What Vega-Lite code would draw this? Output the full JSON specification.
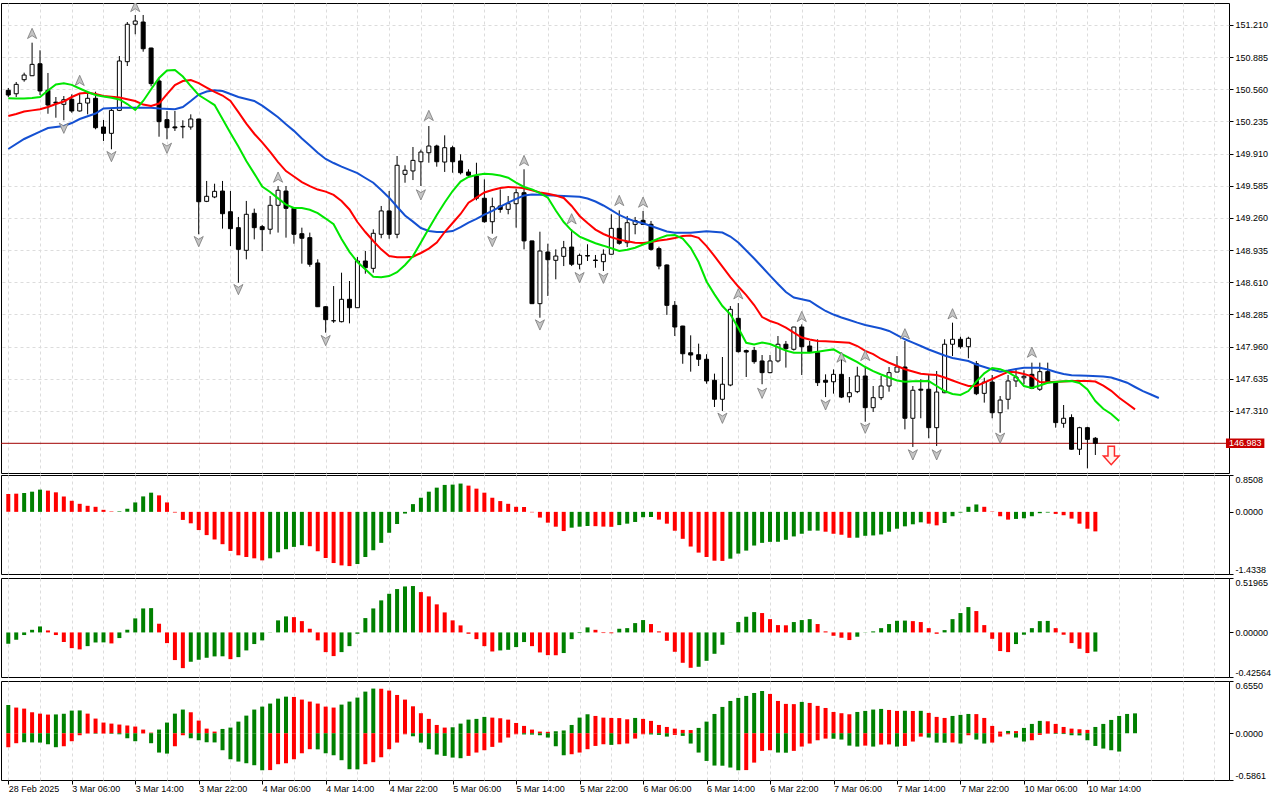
{
  "$schema": "https://vega.github.io/schema/vega-lite/v6.json",
  "background": "white",
  "padding": {"left": 0, "top": 2, "right": 0, "bottom": 0},
  "config": {
    "font": "Liberation Sans",
    "view": {"stroke": "#000000", "strokeWidth": 1},
    "axis": {"labelFont": "Liberation Sans", "labelFontSize": 9, "labelColor": "#000000", "tickColor": "#000000", "gridColor": "#dcdcdc", "gridDash": [3, 3], "domain": false}
  },
  "resolve": {"scale": {"color": "independent"}},
  "datasets": {
    "bars": [
      {"i":0,"o":150.550,"h":150.573,"l":150.482,"c":150.502},
      {"i":1,"o":150.515,"h":150.634,"l":150.482,"c":150.610},
      {"i":2,"o":150.657,"h":150.728,"l":150.637,"c":150.704},
      {"i":3,"o":150.697,"h":151.031,"l":150.694,"c":150.812},
      {"i":4,"o":150.818,"h":150.954,"l":150.502,"c":150.543},
      {"i":5,"o":150.550,"h":150.725,"l":150.313,"c":150.401},
      {"i":6,"o":150.430,"h":150.482,"l":150.273,"c":150.420},
      {"i":7,"o":150.408,"h":150.492,"l":150.247,"c":150.455},
      {"i":8,"o":150.459,"h":150.509,"l":150.323,"c":150.341},
      {"i":9,"o":150.341,"h":150.515,"l":150.335,"c":150.418},
      {"i":10,"o":150.421,"h":150.543,"l":150.307,"c":150.469},
      {"i":11,"o":150.469,"h":150.536,"l":150.156,"c":150.172},
      {"i":12,"o":150.179,"h":150.250,"l":150.038,"c":150.115},
      {"i":13,"o":150.115,"h":150.371,"l":149.954,"c":150.347},
      {"i":14,"o":150.347,"h":150.896,"l":150.340,"c":150.846},
      {"i":15,"o":150.839,"h":151.240,"l":150.795,"c":151.217},
      {"i":16,"o":151.217,"h":151.311,"l":151.116,"c":151.250},
      {"i":17,"o":151.240,"h":151.311,"l":150.940,"c":150.970},
      {"i":18,"o":150.977,"h":150.980,"l":150.590,"c":150.617},
      {"i":19,"o":150.644,"h":150.677,"l":150.081,"c":150.233},
      {"i":20,"o":150.253,"h":150.341,"l":150.055,"c":150.172},
      {"i":21,"o":150.180,"h":150.341,"l":150.139,"c":150.170},
      {"i":22,"o":150.180,"h":150.247,"l":150.065,"c":150.185},
      {"i":23,"o":150.179,"h":150.307,"l":150.152,"c":150.260},
      {"i":24,"o":150.260,"h":150.262,"l":149.095,"c":149.424},
      {"i":25,"o":149.428,"h":149.634,"l":149.420,"c":149.479},
      {"i":26,"o":149.472,"h":149.606,"l":149.460,"c":149.529},
      {"i":27,"o":149.532,"h":149.634,"l":149.152,"c":149.303},
      {"i":28,"o":149.323,"h":149.532,"l":148.976,"c":149.152},
      {"i":29,"o":149.162,"h":149.270,"l":148.606,"c":148.943},
      {"i":30,"o":148.933,"h":149.432,"l":148.842,"c":149.297},
      {"i":31,"o":149.307,"h":149.354,"l":149.044,"c":149.162},
      {"i":32,"o":149.172,"h":149.190,"l":148.926,"c":149.142},
      {"i":33,"o":149.146,"h":149.482,"l":149.095,"c":149.388},
      {"i":34,"o":149.388,"h":149.583,"l":149.112,"c":149.540},
      {"i":35,"o":149.532,"h":149.583,"l":149.061,"c":149.357},
      {"i":36,"o":149.357,"h":149.360,"l":149.000,"c":149.095},
      {"i":37,"o":149.101,"h":149.162,"l":148.798,"c":149.055},
      {"i":38,"o":149.061,"h":149.112,"l":148.767,"c":148.792},
      {"i":39,"o":148.805,"h":148.842,"l":148.360,"c":148.363},
      {"i":40,"o":148.363,"h":148.370,"l":148.101,"c":148.232},
      {"i":41,"o":148.220,"h":148.572,"l":148.200,"c":148.222},
      {"i":42,"o":148.212,"h":148.707,"l":148.205,"c":148.438},
      {"i":43,"o":148.438,"h":148.623,"l":148.195,"c":148.353},
      {"i":44,"o":148.353,"h":148.865,"l":148.350,"c":148.825},
      {"i":45,"o":148.825,"h":148.926,"l":148.697,"c":148.757},
      {"i":46,"o":148.751,"h":149.145,"l":148.707,"c":149.105},
      {"i":47,"o":149.095,"h":149.381,"l":149.055,"c":149.331},
      {"i":48,"o":149.331,"h":149.532,"l":149.050,"c":149.095},
      {"i":49,"o":149.095,"h":149.886,"l":149.055,"c":149.792},
      {"i":50,"o":149.701,"h":149.792,"l":149.616,"c":149.742},
      {"i":51,"o":149.735,"h":149.977,"l":149.643,"c":149.842},
      {"i":52,"o":149.828,"h":149.950,"l":149.583,"c":149.926},
      {"i":53,"o":149.919,"h":150.189,"l":149.818,"c":149.987},
      {"i":54,"o":149.987,"h":150.000,"l":149.778,"c":149.828},
      {"i":55,"o":149.825,"h":150.095,"l":149.725,"c":149.970},
      {"i":56,"o":149.970,"h":149.990,"l":149.717,"c":149.828},
      {"i":57,"o":149.836,"h":149.903,"l":149.700,"c":149.717},
      {"i":58,"o":149.724,"h":149.752,"l":149.674,"c":149.691},
      {"i":59,"o":149.684,"h":149.818,"l":149.438,"c":149.459},
      {"i":60,"o":149.459,"h":149.650,"l":149.212,"c":149.222},
      {"i":61,"o":149.222,"h":149.465,"l":149.101,"c":149.374},
      {"i":62,"o":149.381,"h":149.549,"l":149.313,"c":149.347},
      {"i":63,"o":149.347,"h":149.482,"l":149.297,"c":149.404},
      {"i":64,"o":149.404,"h":149.555,"l":149.162,"c":149.515},
      {"i":65,"o":149.515,"h":149.752,"l":148.943,"c":149.028},
      {"i":66,"o":149.028,"h":149.030,"l":148.390,"c":148.394},
      {"i":67,"o":148.394,"h":149.121,"l":148.252,"c":148.926},
      {"i":68,"o":148.916,"h":149.000,"l":148.472,"c":148.838},
      {"i":69,"o":148.832,"h":148.943,"l":148.640,"c":148.875},
      {"i":70,"o":148.872,"h":149.028,"l":148.774,"c":148.959},
      {"i":71,"o":148.966,"h":149.145,"l":148.774,"c":148.792},
      {"i":72,"o":148.792,"h":148.900,"l":148.741,"c":148.882},
      {"i":73,"o":148.880,"h":148.994,"l":148.825,"c":148.875},
      {"i":74,"o":148.835,"h":148.886,"l":148.757,"c":148.830},
      {"i":75,"o":148.818,"h":148.943,"l":148.724,"c":148.893},
      {"i":76,"o":148.893,"h":149.297,"l":148.890,"c":149.155},
      {"i":77,"o":149.155,"h":149.337,"l":148.990,"c":149.004},
      {"i":78,"o":149.010,"h":149.280,"l":148.966,"c":149.212},
      {"i":79,"o":149.195,"h":149.270,"l":149.095,"c":149.234},
      {"i":80,"o":149.236,"h":149.331,"l":149.190,"c":149.195},
      {"i":81,"o":149.196,"h":149.230,"l":148.930,"c":148.943},
      {"i":82,"o":148.950,"h":148.970,"l":148.741,"c":148.774},
      {"i":83,"o":148.785,"h":148.790,"l":148.280,"c":148.377},
      {"i":84,"o":148.377,"h":148.420,"l":148.067,"c":148.158},
      {"i":85,"o":148.168,"h":148.170,"l":147.787,"c":147.888},
      {"i":86,"o":147.898,"h":148.074,"l":147.707,"c":147.875},
      {"i":87,"o":147.878,"h":147.990,"l":147.764,"c":147.832},
      {"i":88,"o":147.832,"h":147.883,"l":147.585,"c":147.613},
      {"i":89,"o":147.620,"h":147.687,"l":147.350,"c":147.428},
      {"i":90,"o":147.428,"h":147.855,"l":147.310,"c":147.580},
      {"i":91,"o":147.572,"h":148.370,"l":147.560,"c":148.337},
      {"i":92,"o":148.246,"h":148.400,"l":147.900,"c":147.909},
      {"i":93,"o":147.920,"h":147.930,"l":147.653,"c":147.905},
      {"i":94,"o":147.922,"h":147.957,"l":147.787,"c":147.808},
      {"i":95,"o":147.815,"h":147.875,"l":147.580,"c":147.697},
      {"i":96,"o":147.697,"h":147.875,"l":147.690,"c":147.815},
      {"i":97,"o":147.815,"h":148.067,"l":147.800,"c":147.984},
      {"i":98,"o":147.984,"h":148.017,"l":147.748,"c":147.939},
      {"i":99,"o":147.933,"h":148.160,"l":147.920,"c":148.158},
      {"i":100,"o":148.158,"h":148.185,"l":147.673,"c":147.959},
      {"i":101,"o":147.966,"h":148.017,"l":147.900,"c":147.909},
      {"i":102,"o":147.899,"h":148.034,"l":147.562,"c":147.596},
      {"i":103,"o":147.620,"h":147.680,"l":147.450,"c":147.600},
      {"i":104,"o":147.605,"h":147.730,"l":147.485,"c":147.680},
      {"i":105,"o":147.680,"h":147.875,"l":147.440,"c":147.450},
      {"i":106,"o":147.454,"h":147.653,"l":147.394,"c":147.494},
      {"i":107,"o":147.505,"h":147.757,"l":147.490,"c":147.663},
      {"i":108,"o":147.663,"h":147.747,"l":147.201,"c":147.343},
      {"i":109,"o":147.343,"h":147.562,"l":147.300,"c":147.444},
      {"i":110,"o":147.444,"h":147.663,"l":147.420,"c":147.562},
      {"i":111,"o":147.562,"h":147.754,"l":147.505,"c":147.697},
      {"i":112,"o":147.703,"h":147.865,"l":147.700,"c":147.754},
      {"i":113,"o":147.754,"h":148.017,"l":147.124,"c":147.236},
      {"i":114,"o":147.236,"h":147.562,"l":146.946,"c":147.519},
      {"i":115,"o":147.530,"h":147.630,"l":147.236,"c":147.520},
      {"i":116,"o":147.529,"h":147.680,"l":147.034,"c":147.141},
      {"i":117,"o":147.141,"h":147.714,"l":146.956,"c":147.501},
      {"i":118,"o":147.494,"h":148.034,"l":147.490,"c":147.984},
      {"i":119,"o":147.984,"h":148.202,"l":147.865,"c":148.034},
      {"i":120,"o":148.034,"h":148.060,"l":147.940,"c":147.959},
      {"i":121,"o":147.959,"h":148.060,"l":147.842,"c":148.044},
      {"i":122,"o":147.788,"h":147.815,"l":147.470,"c":147.484},
      {"i":123,"o":147.488,"h":147.646,"l":147.394,"c":147.602},
      {"i":124,"o":147.602,"h":147.673,"l":147.236,"c":147.292},
      {"i":125,"o":147.292,"h":147.461,"l":147.090,"c":147.420},
      {"i":126,"o":147.428,"h":147.673,"l":147.326,"c":147.613},
      {"i":127,"o":147.613,"h":147.731,"l":147.552,"c":147.653},
      {"i":128,"o":147.645,"h":147.720,"l":147.580,"c":147.660},
      {"i":129,"o":147.680,"h":147.798,"l":147.530,"c":147.538},
      {"i":130,"o":147.529,"h":147.798,"l":147.512,"c":147.707},
      {"i":131,"o":147.707,"h":147.798,"l":147.590,"c":147.596},
      {"i":132,"o":147.596,"h":147.600,"l":147.141,"c":147.192},
      {"i":133,"o":147.185,"h":147.370,"l":147.140,"c":147.236},
      {"i":134,"o":147.243,"h":147.276,"l":146.920,"c":146.923},
      {"i":135,"o":146.923,"h":147.150,"l":146.865,"c":147.141},
      {"i":136,"o":147.141,"h":147.150,"l":146.730,"c":147.023},
      {"i":137,"o":147.034,"h":147.046,"l":146.865,"c":146.983}
    ],
    "ma": [
      {"s":"jaw","i":0,"v":149.957},{"s":"jaw","i":2,"v":150.058},{"s":"jaw","i":4,"v":150.133},{"s":"jaw","i":5,"v":150.169},{"s":"jaw","i":7,"v":150.189},{"s":"jaw","i":8,"v":150.219},{"s":"jaw","i":9,"v":150.260},{"s":"jaw","i":11,"v":150.315},{"s":"jaw","i":12,"v":150.366},{"s":"jaw","i":14,"v":150.374},{"s":"jaw","i":16,"v":150.374},{"s":"jaw","i":18,"v":150.374},{"s":"jaw","i":19,"v":150.366},{"s":"jaw","i":21,"v":150.358},{"s":"jaw","i":22,"v":150.381},{"s":"jaw","i":23,"v":150.442},{"s":"jaw","i":24,"v":150.507},{"s":"jaw","i":25,"v":150.538},{"s":"jaw","i":26,"v":150.550},{"s":"jaw","i":27,"v":150.543},{"s":"jaw","i":28,"v":150.512},{"s":"jaw","i":29,"v":150.482},{"s":"jaw","i":30,"v":150.462},{"s":"jaw","i":31,"v":150.442},{"s":"jaw","i":32,"v":150.395},{"s":"jaw","i":33,"v":150.337},{"s":"jaw","i":34,"v":150.278},{"s":"jaw","i":35,"v":150.206},{"s":"jaw","i":36,"v":150.140},{"s":"jaw","i":37,"v":150.063},{"s":"jaw","i":38,"v":149.992},{"s":"jaw","i":39,"v":149.919},{"s":"jaw","i":40,"v":149.856},{"s":"jaw","i":41,"v":149.815},{"s":"jaw","i":42,"v":149.779},{"s":"jaw","i":43,"v":149.746},{"s":"jaw","i":44,"v":149.714},{"s":"jaw","i":45,"v":149.664},{"s":"jaw","i":46,"v":149.616},{"s":"jaw","i":47,"v":149.542},{"s":"jaw","i":48,"v":149.465},{"s":"jaw","i":49,"v":149.373},{"s":"jaw","i":50,"v":149.285},{"s":"jaw","i":51,"v":149.223},{"s":"jaw","i":52,"v":149.158},{"s":"jaw","i":53,"v":149.128},{"s":"jaw","i":54,"v":149.118},{"s":"jaw","i":55,"v":149.118},{"s":"jaw","i":56,"v":149.128},{"s":"jaw","i":57,"v":149.168},{"s":"jaw","i":58,"v":149.212},{"s":"jaw","i":59,"v":149.251},{"s":"jaw","i":60,"v":149.293},{"s":"jaw","i":61,"v":149.332},{"s":"jaw","i":62,"v":149.375},{"s":"jaw","i":63,"v":149.414},{"s":"jaw","i":64,"v":149.453},{"s":"jaw","i":65,"v":149.487},{"s":"jaw","i":66,"v":149.497},{"s":"jaw","i":67,"v":149.495},{"s":"jaw","i":68,"v":149.489},{"s":"jaw","i":70,"v":149.482},{"s":"jaw","i":72,"v":149.474},{"s":"jaw","i":73,"v":149.456},{"s":"jaw","i":74,"v":149.426},{"s":"jaw","i":75,"v":149.386},{"s":"jaw","i":76,"v":149.340},{"s":"jaw","i":77,"v":149.290},{"s":"jaw","i":78,"v":149.254},{"s":"jaw","i":79,"v":149.226},{"s":"jaw","i":80,"v":149.206},{"s":"jaw","i":81,"v":149.179},{"s":"jaw","i":82,"v":149.151},{"s":"jaw","i":83,"v":149.123},{"s":"jaw","i":84,"v":149.111},{"s":"jaw","i":86,"v":149.111},{"s":"jaw","i":88,"v":149.125},{"s":"jaw","i":90,"v":149.112},{"s":"jaw","i":91,"v":149.072},{"s":"jaw","i":92,"v":149.012},{"s":"jaw","i":93,"v":148.931},{"s":"jaw","i":94,"v":148.850},{"s":"jaw","i":95,"v":148.764},{"s":"jaw","i":96,"v":148.678},{"s":"jaw","i":97,"v":148.593},{"s":"jaw","i":98,"v":148.512},{"s":"jaw","i":99,"v":148.456},{"s":"jaw","i":100,"v":148.438},{"s":"jaw","i":101,"v":148.421},{"s":"jaw","i":102,"v":148.370},{"s":"jaw","i":103,"v":148.320},{"s":"jaw","i":104,"v":148.284},{"s":"jaw","i":105,"v":148.254},{"s":"jaw","i":106,"v":148.229},{"s":"jaw","i":107,"v":148.202},{"s":"jaw","i":108,"v":148.178},{"s":"jaw","i":109,"v":148.161},{"s":"jaw","i":110,"v":148.143},{"s":"jaw","i":111,"v":148.118},{"s":"jaw","i":112,"v":148.077},{"s":"jaw","i":113,"v":148.034},{"s":"jaw","i":114,"v":148.001},{"s":"jaw","i":115,"v":147.966},{"s":"jaw","i":116,"v":147.931},{"s":"jaw","i":117,"v":147.900},{"s":"jaw","i":118,"v":147.870},{"s":"jaw","i":119,"v":147.845},{"s":"jaw","i":120,"v":147.830},{"s":"jaw","i":121,"v":147.815},{"s":"jaw","i":122,"v":147.779},{"s":"jaw","i":123,"v":147.754},{"s":"jaw","i":124,"v":147.729},{"s":"jaw","i":125,"v":147.706},{"s":"jaw","i":126,"v":147.719},{"s":"jaw","i":127,"v":147.734},{"s":"jaw","i":128,"v":147.747},{"s":"jaw","i":130,"v":147.747},{"s":"jaw","i":131,"v":147.729},{"s":"jaw","i":132,"v":147.703},{"s":"jaw","i":133,"v":147.683},{"s":"jaw","i":134,"v":147.670},{"s":"jaw","i":136,"v":147.666},{"s":"jaw","i":138,"v":147.658},{"s":"jaw","i":139,"v":147.648},{"s":"jaw","i":140,"v":147.623},{"s":"jaw","i":141,"v":147.595},{"s":"jaw","i":142,"v":147.552},{"s":"jaw","i":143,"v":147.511},{"s":"jaw","i":144,"v":147.476},{"s":"jaw","i":145,"v":147.441},
      {"s":"teeth","i":0,"v":150.290},{"s":"teeth","i":1,"v":150.310},{"s":"teeth","i":2,"v":150.335},{"s":"teeth","i":3,"v":150.347},{"s":"teeth","i":4,"v":150.358},{"s":"teeth","i":5,"v":150.381},{"s":"teeth","i":6,"v":150.411},{"s":"teeth","i":7,"v":150.437},{"s":"teeth","i":8,"v":150.482},{"s":"teeth","i":9,"v":150.517},{"s":"teeth","i":10,"v":150.524},{"s":"teeth","i":11,"v":150.512},{"s":"teeth","i":12,"v":150.492},{"s":"teeth","i":13,"v":150.485},{"s":"teeth","i":14,"v":150.477},{"s":"teeth","i":15,"v":150.459},{"s":"teeth","i":16,"v":150.442},{"s":"teeth","i":17,"v":150.406},{"s":"teeth","i":18,"v":150.391},{"s":"teeth","i":19,"v":150.416},{"s":"teeth","i":20,"v":150.512},{"s":"teeth","i":21,"v":150.603},{"s":"teeth","i":22,"v":150.644},{"s":"teeth","i":23,"v":150.654},{"s":"teeth","i":24,"v":150.623},{"s":"teeth","i":25,"v":150.578},{"s":"teeth","i":26,"v":150.533},{"s":"teeth","i":27,"v":150.497},{"s":"teeth","i":28,"v":150.442},{"s":"teeth","i":29,"v":150.330},{"s":"teeth","i":30,"v":150.213},{"s":"teeth","i":31,"v":150.111},{"s":"teeth","i":32,"v":150.023},{"s":"teeth","i":33,"v":149.928},{"s":"teeth","i":34,"v":149.825},{"s":"teeth","i":35,"v":149.734},{"s":"teeth","i":36,"v":149.679},{"s":"teeth","i":37,"v":149.623},{"s":"teeth","i":38,"v":149.581},{"s":"teeth","i":39,"v":149.547},{"s":"teeth","i":40,"v":149.526},{"s":"teeth","i":41,"v":149.493},{"s":"teeth","i":42,"v":149.431},{"s":"teeth","i":43,"v":149.346},{"s":"teeth","i":44,"v":149.219},{"s":"teeth","i":45,"v":149.118},{"s":"teeth","i":46,"v":149.027},{"s":"teeth","i":47,"v":148.943},{"s":"teeth","i":48,"v":148.875},{"s":"teeth","i":49,"v":148.864},{"s":"teeth","i":50,"v":148.862},{"s":"teeth","i":51,"v":148.868},{"s":"teeth","i":52,"v":148.906},{"s":"teeth","i":53,"v":148.950},{"s":"teeth","i":54,"v":149.012},{"s":"teeth","i":55,"v":149.118},{"s":"teeth","i":56,"v":149.209},{"s":"teeth","i":57,"v":149.300},{"s":"teeth","i":58,"v":149.414},{"s":"teeth","i":59,"v":149.465},{"s":"teeth","i":60,"v":149.517},{"s":"teeth","i":61,"v":149.542},{"s":"teeth","i":62,"v":149.563},{"s":"teeth","i":63,"v":149.573},{"s":"teeth","i":64,"v":149.569},{"s":"teeth","i":65,"v":149.560},{"s":"teeth","i":66,"v":149.540},{"s":"teeth","i":67,"v":149.517},{"s":"teeth","i":68,"v":149.505},{"s":"teeth","i":69,"v":149.487},{"s":"teeth","i":70,"v":149.462},{"s":"teeth","i":71,"v":149.381},{"s":"teeth","i":72,"v":149.280},{"s":"teeth","i":73,"v":149.209},{"s":"teeth","i":74,"v":149.142},{"s":"teeth","i":75,"v":149.098},{"s":"teeth","i":76,"v":149.065},{"s":"teeth","i":77,"v":149.041},{"s":"teeth","i":78,"v":149.024},{"s":"teeth","i":79,"v":149.010},{"s":"teeth","i":80,"v":149.007},{"s":"teeth","i":81,"v":149.017},{"s":"teeth","i":82,"v":149.032},{"s":"teeth","i":83,"v":149.042},{"s":"teeth","i":84,"v":149.057},{"s":"teeth","i":85,"v":149.078},{"s":"teeth","i":86,"v":149.083},{"s":"teeth","i":87,"v":149.059},{"s":"teeth","i":88,"v":148.976},{"s":"teeth","i":89,"v":148.875},{"s":"teeth","i":90,"v":148.769},{"s":"teeth","i":91,"v":148.663},{"s":"teeth","i":92,"v":148.567},{"s":"teeth","i":93,"v":148.481},{"s":"teeth","i":94,"v":148.380},{"s":"teeth","i":95,"v":148.259},{"s":"teeth","i":96,"v":148.219},{"s":"teeth","i":97,"v":148.193},{"s":"teeth","i":98,"v":148.151},{"s":"teeth","i":99,"v":148.102},{"s":"teeth","i":100,"v":148.052},{"s":"teeth","i":101,"v":148.032},{"s":"teeth","i":102,"v":148.017},{"s":"teeth","i":103,"v":148.013},{"s":"teeth","i":104,"v":148.010},{"s":"teeth","i":105,"v":148.004},{"s":"teeth","i":106,"v":147.999},{"s":"teeth","i":107,"v":147.966},{"s":"teeth","i":108,"v":147.916},{"s":"teeth","i":109,"v":147.885},{"s":"teeth","i":110,"v":147.835},{"s":"teeth","i":111,"v":147.797},{"s":"teeth","i":112,"v":147.764},{"s":"teeth","i":113,"v":147.731},{"s":"teeth","i":114,"v":147.708},{"s":"teeth","i":115,"v":147.686},{"s":"teeth","i":116,"v":147.679},{"s":"teeth","i":117,"v":147.673},{"s":"teeth","i":118,"v":147.648},{"s":"teeth","i":119,"v":147.618},{"s":"teeth","i":120,"v":147.589},{"s":"teeth","i":121,"v":147.562},{"s":"teeth","i":122,"v":147.562},{"s":"teeth","i":123,"v":147.597},{"s":"teeth","i":124,"v":147.633},{"s":"teeth","i":125,"v":147.670},{"s":"teeth","i":126,"v":147.706},{"s":"teeth","i":127,"v":147.700},{"s":"teeth","i":128,"v":147.683},{"s":"teeth","i":129,"v":147.660},{"s":"teeth","i":130,"v":147.602},{"s":"teeth","i":131,"v":147.599},{"s":"teeth","i":132,"v":147.604},{"s":"teeth","i":133,"v":147.608},{"s":"teeth","i":134,"v":147.612},{"s":"teeth","i":136,"v":147.612},{"s":"teeth","i":137,"v":147.607},{"s":"teeth","i":138,"v":147.565},{"s":"teeth","i":139,"v":147.513},{"s":"teeth","i":140,"v":147.444},{"s":"teeth","i":141,"v":147.385},{"s":"teeth","i":142,"v":147.326},
      {"s":"lips","i":0,"v":150.469},{"s":"lips","i":1,"v":150.468},{"s":"lips","i":2,"v":150.467},{"s":"lips","i":3,"v":150.472},{"s":"lips","i":4,"v":150.482},{"s":"lips","i":5,"v":150.548},{"s":"lips","i":6,"v":150.608},{"s":"lips","i":7,"v":150.620},{"s":"lips","i":8,"v":150.605},{"s":"lips","i":9,"v":150.568},{"s":"lips","i":10,"v":150.533},{"s":"lips","i":11,"v":150.502},{"s":"lips","i":12,"v":150.487},{"s":"lips","i":13,"v":150.475},{"s":"lips","i":14,"v":150.457},{"s":"lips","i":15,"v":150.411},{"s":"lips","i":16,"v":150.351},{"s":"lips","i":17,"v":150.442},{"s":"lips","i":18,"v":150.560},{"s":"lips","i":19,"v":150.674},{"s":"lips","i":20,"v":150.750},{"s":"lips","i":21,"v":150.755},{"s":"lips","i":22,"v":150.689},{"s":"lips","i":23,"v":150.593},{"s":"lips","i":24,"v":150.502},{"s":"lips","i":25,"v":150.452},{"s":"lips","i":26,"v":150.401},{"s":"lips","i":27,"v":150.260},{"s":"lips","i":28,"v":150.118},{"s":"lips","i":29,"v":149.982},{"s":"lips","i":30,"v":149.835},{"s":"lips","i":31,"v":149.708},{"s":"lips","i":32,"v":149.578},{"s":"lips","i":33,"v":149.522},{"s":"lips","i":34,"v":149.458},{"s":"lips","i":35,"v":149.395},{"s":"lips","i":36,"v":149.361},{"s":"lips","i":37,"v":149.360},{"s":"lips","i":38,"v":149.343},{"s":"lips","i":39,"v":149.308},{"s":"lips","i":40,"v":149.254},{"s":"lips","i":41,"v":149.196},{"s":"lips","i":42,"v":149.047},{"s":"lips","i":43,"v":148.918},{"s":"lips","i":44,"v":148.815},{"s":"lips","i":45,"v":148.742},{"s":"lips","i":46,"v":148.666},{"s":"lips","i":47,"v":148.660},{"s":"lips","i":48,"v":148.673},{"s":"lips","i":49,"v":148.712},{"s":"lips","i":50,"v":148.785},{"s":"lips","i":51,"v":148.875},{"s":"lips","i":52,"v":149.012},{"s":"lips","i":53,"v":149.153},{"s":"lips","i":54,"v":149.290},{"s":"lips","i":55,"v":149.416},{"s":"lips","i":56,"v":149.532},{"s":"lips","i":57,"v":149.627},{"s":"lips","i":58,"v":149.674},{"s":"lips","i":59,"v":149.694},{"s":"lips","i":60,"v":149.706},{"s":"lips","i":61,"v":149.702},{"s":"lips","i":62,"v":149.688},{"s":"lips","i":63,"v":149.667},{"s":"lips","i":64,"v":149.617},{"s":"lips","i":65,"v":149.573},{"s":"lips","i":66,"v":149.549},{"s":"lips","i":67,"v":149.512},{"s":"lips","i":68,"v":149.465},{"s":"lips","i":69,"v":149.335},{"s":"lips","i":70,"v":149.219},{"s":"lips","i":71,"v":149.132},{"s":"lips","i":72,"v":149.072},{"s":"lips","i":73,"v":149.037},{"s":"lips","i":74,"v":149.004},{"s":"lips","i":75,"v":148.980},{"s":"lips","i":76,"v":148.954},{"s":"lips","i":77,"v":148.926},{"s":"lips","i":78,"v":148.939},{"s":"lips","i":79,"v":148.959},{"s":"lips","i":80,"v":148.992},{"s":"lips","i":81,"v":149.020},{"s":"lips","i":82,"v":149.054},{"s":"lips","i":83,"v":149.083},{"s":"lips","i":84,"v":149.088},{"s":"lips","i":85,"v":149.052},{"s":"lips","i":86,"v":148.959},{"s":"lips","i":87,"v":148.815},{"s":"lips","i":88,"v":148.618},{"s":"lips","i":89,"v":148.488},{"s":"lips","i":90,"v":148.370},{"s":"lips","i":91,"v":148.286},{"s":"lips","i":92,"v":148.148},{"s":"lips","i":93,"v":147.999},{"s":"lips","i":94,"v":147.981},{"s":"lips","i":95,"v":148.001},{"s":"lips","i":96,"v":147.986},{"s":"lips","i":97,"v":147.954},{"s":"lips","i":98,"v":147.919},{"s":"lips","i":99,"v":147.898},{"s":"lips","i":101,"v":147.898},{"s":"lips","i":102,"v":147.909},{"s":"lips","i":103,"v":147.921},{"s":"lips","i":104,"v":147.932},{"s":"lips","i":105,"v":147.887},{"s":"lips","i":106,"v":147.845},{"s":"lips","i":107,"v":147.804},{"s":"lips","i":108,"v":147.754},{"s":"lips","i":109,"v":147.713},{"s":"lips","i":110,"v":147.678},{"s":"lips","i":111,"v":147.648},{"s":"lips","i":112,"v":147.618},{"s":"lips","i":113,"v":147.605},{"s":"lips","i":114,"v":147.610},{"s":"lips","i":116,"v":147.612},{"s":"lips","i":117,"v":147.562},{"s":"lips","i":118,"v":147.511},{"s":"lips","i":119,"v":147.481},{"s":"lips","i":120,"v":147.471},{"s":"lips","i":121,"v":147.511},{"s":"lips","i":122,"v":147.607},{"s":"lips","i":123,"v":147.690},{"s":"lips","i":124,"v":147.744},{"s":"lips","i":125,"v":147.731},{"s":"lips","i":126,"v":147.703},{"s":"lips","i":127,"v":147.653},{"s":"lips","i":128,"v":147.562},{"s":"lips","i":129,"v":147.542},{"s":"lips","i":130,"v":147.567},{"s":"lips","i":131,"v":147.595},{"s":"lips","i":132,"v":147.602},{"s":"lips","i":133,"v":147.609},{"s":"lips","i":134,"v":147.612},{"s":"lips","i":135,"v":147.592},{"s":"lips","i":136,"v":147.528},{"s":"lips","i":137,"v":147.410},{"s":"lips","i":138,"v":147.332},{"s":"lips","i":139,"v":147.279},{"s":"lips","i":140,"v":147.208}
    ],
    "fractals": [
      {"i":3,"p":151.119,"t":"up"},{"i":9,"p":150.644,"t":"up"},{"i":16,"p":151.391,"t":"up"},{"i":34,"p":149.667,"t":"up"},{"i":53,"p":150.290,"t":"up"},{"i":65,"p":149.835,"t":"up"},{"i":71,"p":149.246,"t":"up"},{"i":77,"p":149.431,"t":"up"},{"i":80,"p":149.414,"t":"up"},{"i":92,"p":148.488,"t":"up"},{"i":100,"p":148.259,"t":"up"},{"i":105,"p":147.848,"t":"up"},{"i":108,"p":147.865,"t":"up"},{"i":113,"p":148.084,"t":"up"},{"i":119,"p":148.286,"t":"up"},{"i":129,"p":147.898,"t":"up"},
      {"i":7,"p":150.172,"t":"dn"},{"i":13,"p":149.886,"t":"dn"},{"i":20,"p":149.970,"t":"dn"},{"i":24,"p":149.027,"t":"dn"},{"i":29,"p":148.542,"t":"dn"},{"i":40,"p":148.027,"t":"dn"},{"i":52,"p":149.499,"t":"dn"},{"i":61,"p":149.027,"t":"dn"},{"i":67,"p":148.185,"t":"dn"},{"i":72,"p":148.663,"t":"dn"},{"i":75,"p":148.656,"t":"dn"},{"i":90,"p":147.242,"t":"dn"},{"i":95,"p":147.494,"t":"dn"},{"i":103,"p":147.377,"t":"dn"},{"i":108,"p":147.141,"t":"dn"},{"i":114,"p":146.872,"t":"dn"},{"i":117,"p":146.872,"t":"dn"},{"i":125,"p":147.040,"t":"dn"}
    ],
    "signal": [{"i":139,"p":146.86}],
    "last": [{"p":146.983,"label":"146.983"}],
    "ao": [
      {"i":0,"v":0.410,"d":"d"},{"i":1,"v":0.420,"d":"d"},{"i":2,"v":0.435,"d":"u"},{"i":3,"v":0.466,"d":"u"},{"i":4,"v":0.513,"d":"u"},{"i":5,"v":0.490,"d":"d"},{"i":6,"v":0.451,"d":"d"},{"i":7,"v":0.357,"d":"d"},{"i":8,"v":0.256,"d":"d"},{"i":9,"v":0.186,"d":"d"},{"i":10,"v":0.140,"d":"d"},{"i":11,"v":0.117,"d":"d"},{"i":12,"v":0.047,"d":"d"},{"i":13,"v":0.010,"d":"d"},{"i":14,"v":0.012,"d":"u"},{"i":15,"v":0.070,"d":"u"},{"i":16,"v":0.218,"d":"u"},{"i":17,"v":0.357,"d":"u"},{"i":18,"v":0.443,"d":"u"},{"i":19,"v":0.381,"d":"d"},{"i":20,"v":0.218,"d":"d"},{"i":21,"v":-0.015,"d":"d"},{"i":22,"v":-0.186,"d":"d"},{"i":23,"v":-0.264,"d":"d"},{"i":24,"v":-0.420,"d":"d"},{"i":25,"v":-0.536,"d":"d"},{"i":26,"v":-0.637,"d":"d"},{"i":27,"v":-0.746,"d":"d"},{"i":28,"v":-0.901,"d":"d"},{"i":29,"v":-1.002,"d":"d"},{"i":30,"v":-1.041,"d":"d"},{"i":31,"v":-1.072,"d":"d"},{"i":32,"v":-1.119,"d":"d"},{"i":33,"v":-1.072,"d":"u"},{"i":34,"v":-0.932,"d":"u"},{"i":35,"v":-0.862,"d":"u"},{"i":36,"v":-0.808,"d":"u"},{"i":37,"v":-0.769,"d":"u"},{"i":38,"v":-0.793,"d":"d"},{"i":39,"v":-0.909,"d":"d"},{"i":40,"v":-1.064,"d":"d"},{"i":41,"v":-1.181,"d":"d"},{"i":42,"v":-1.235,"d":"d"},{"i":43,"v":-1.251,"d":"d"},{"i":44,"v":-1.204,"d":"u"},{"i":45,"v":-1.041,"d":"u"},{"i":46,"v":-0.886,"d":"u"},{"i":47,"v":-0.715,"d":"u"},{"i":48,"v":-0.482,"d":"u"},{"i":49,"v":-0.280,"d":"u"},{"i":50,"v":-0.039,"d":"u"},{"i":51,"v":0.179,"d":"u"},{"i":52,"v":0.326,"d":"u"},{"i":53,"v":0.466,"d":"u"},{"i":54,"v":0.559,"d":"u"},{"i":55,"v":0.622,"d":"u"},{"i":56,"v":0.629,"d":"u"},{"i":57,"v":0.653,"d":"u"},{"i":58,"v":0.606,"d":"d"},{"i":59,"v":0.536,"d":"d"},{"i":60,"v":0.443,"d":"d"},{"i":61,"v":0.326,"d":"d"},{"i":62,"v":0.249,"d":"d"},{"i":63,"v":0.186,"d":"d"},{"i":64,"v":0.117,"d":"d"},{"i":65,"v":0.112,"d":"d"},{"i":66,"v":-0.010,"d":"d"},{"i":67,"v":-0.132,"d":"d"},{"i":68,"v":-0.249,"d":"d"},{"i":69,"v":-0.342,"d":"d"},{"i":70,"v":-0.443,"d":"d"},{"i":71,"v":-0.365,"d":"u"},{"i":72,"v":-0.342,"d":"u"},{"i":73,"v":-0.326,"d":"u"},{"i":74,"v":-0.330,"d":"d"},{"i":75,"v":-0.340,"d":"d"},{"i":76,"v":-0.345,"d":"d"},{"i":77,"v":-0.305,"d":"u"},{"i":78,"v":-0.272,"d":"u"},{"i":79,"v":-0.233,"d":"u"},{"i":80,"v":-0.124,"d":"u"},{"i":81,"v":-0.118,"d":"u"},{"i":82,"v":-0.179,"d":"d"},{"i":83,"v":-0.272,"d":"d"},{"i":84,"v":-0.435,"d":"d"},{"i":85,"v":-0.622,"d":"d"},{"i":86,"v":-0.800,"d":"d"},{"i":87,"v":-0.940,"d":"d"},{"i":88,"v":-1.041,"d":"d"},{"i":89,"v":-1.127,"d":"d"},{"i":90,"v":-1.132,"d":"d"},{"i":91,"v":-1.080,"d":"u"},{"i":92,"v":-0.963,"d":"u"},{"i":93,"v":-0.894,"d":"u"},{"i":94,"v":-0.777,"d":"u"},{"i":95,"v":-0.715,"d":"u"},{"i":96,"v":-0.692,"d":"u"},{"i":97,"v":-0.690,"d":"u"},{"i":98,"v":-0.645,"d":"u"},{"i":99,"v":-0.567,"d":"u"},{"i":100,"v":-0.505,"d":"u"},{"i":101,"v":-0.435,"d":"u"},{"i":102,"v":-0.433,"d":"u"},{"i":103,"v":-0.458,"d":"d"},{"i":104,"v":-0.505,"d":"d"},{"i":105,"v":-0.528,"d":"d"},{"i":106,"v":-0.598,"d":"d"},{"i":107,"v":-0.596,"d":"u"},{"i":108,"v":-0.552,"d":"u"},{"i":109,"v":-0.544,"d":"u"},{"i":110,"v":-0.521,"d":"u"},{"i":111,"v":-0.458,"d":"u"},{"i":112,"v":-0.389,"d":"u"},{"i":113,"v":-0.334,"d":"u"},{"i":114,"v":-0.287,"d":"u"},{"i":115,"v":-0.241,"d":"u"},{"i":116,"v":-0.272,"d":"d"},{"i":117,"v":-0.311,"d":"d"},{"i":118,"v":-0.256,"d":"u"},{"i":119,"v":-0.101,"d":"u"},{"i":120,"v":-0.016,"d":"u"},{"i":121,"v":0.117,"d":"u"},{"i":122,"v":0.171,"d":"u"},{"i":123,"v":0.117,"d":"d"},{"i":124,"v":0.008,"d":"d"},{"i":125,"v":-0.101,"d":"d"},{"i":126,"v":-0.179,"d":"d"},{"i":127,"v":-0.163,"d":"u"},{"i":128,"v":-0.148,"d":"u"},{"i":129,"v":-0.101,"d":"u"},{"i":130,"v":-0.031,"d":"u"},{"i":131,"v":-0.016,"d":"u"},{"i":132,"v":-0.047,"d":"d"},{"i":133,"v":-0.078,"d":"d"},{"i":134,"v":-0.155,"d":"d"},{"i":135,"v":-0.272,"d":"d"},{"i":136,"v":-0.389,"d":"d"},{"i":137,"v":-0.4504,"d":"d"}
    ],
    "ac": [
      {"i":0,"v":-0.108,"d":"u"},{"i":1,"v":-0.070,"d":"u"},{"i":2,"v":-0.025,"d":"u"},{"i":3,"v":0.025,"d":"u"},{"i":4,"v":0.057,"d":"u"},{"i":5,"v":0.019,"d":"d"},{"i":6,"v":-0.025,"d":"d"},{"i":7,"v":-0.092,"d":"d"},{"i":8,"v":-0.150,"d":"d"},{"i":9,"v":-0.162,"d":"d"},{"i":10,"v":-0.131,"d":"u"},{"i":11,"v":-0.096,"d":"u"},{"i":12,"v":-0.095,"d":"u"},{"i":13,"v":-0.105,"d":"d"},{"i":14,"v":-0.054,"d":"u"},{"i":15,"v":0.025,"d":"u"},{"i":16,"v":0.134,"d":"u"},{"i":17,"v":0.229,"d":"u"},{"i":18,"v":0.232,"d":"u"},{"i":19,"v":0.083,"d":"d"},{"i":20,"v":-0.102,"d":"d"},{"i":21,"v":-0.264,"d":"d"},{"i":22,"v":-0.341,"d":"d"},{"i":23,"v":-0.280,"d":"u"},{"i":24,"v":-0.261,"d":"u"},{"i":25,"v":-0.242,"d":"u"},{"i":26,"v":-0.229,"d":"u"},{"i":27,"v":-0.228,"d":"u"},{"i":28,"v":-0.255,"d":"d"},{"i":29,"v":-0.236,"d":"u"},{"i":30,"v":-0.172,"d":"u"},{"i":31,"v":-0.111,"d":"u"},{"i":32,"v":-0.076,"d":"u"},{"i":33,"v":0.002,"d":"u"},{"i":34,"v":0.115,"d":"u"},{"i":35,"v":0.153,"d":"u"},{"i":36,"v":0.146,"d":"d"},{"i":37,"v":0.108,"d":"d"},{"i":38,"v":0.035,"d":"d"},{"i":39,"v":-0.076,"d":"d"},{"i":40,"v":-0.188,"d":"d"},{"i":41,"v":-0.226,"d":"d"},{"i":42,"v":-0.188,"d":"u"},{"i":43,"v":-0.131,"d":"u"},{"i":44,"v":-0.013,"d":"u"},{"i":45,"v":0.137,"d":"u"},{"i":46,"v":0.229,"d":"u"},{"i":47,"v":0.306,"d":"u"},{"i":48,"v":0.369,"d":"u"},{"i":49,"v":0.414,"d":"u"},{"i":50,"v":0.439,"d":"u"},{"i":51,"v":0.443,"d":"u"},{"i":52,"v":0.385,"d":"d"},{"i":53,"v":0.344,"d":"d"},{"i":54,"v":0.268,"d":"d"},{"i":55,"v":0.191,"d":"d"},{"i":56,"v":0.115,"d":"d"},{"i":57,"v":0.067,"d":"d"},{"i":58,"v":-0.013,"d":"d"},{"i":59,"v":-0.064,"d":"d"},{"i":60,"v":-0.131,"d":"d"},{"i":61,"v":-0.182,"d":"d"},{"i":62,"v":-0.172,"d":"u"},{"i":63,"v":-0.166,"d":"u"},{"i":64,"v":-0.140,"d":"u"},{"i":65,"v":-0.092,"d":"u"},{"i":66,"v":-0.131,"d":"d"},{"i":67,"v":-0.191,"d":"d"},{"i":68,"v":-0.217,"d":"d"},{"i":69,"v":-0.218,"d":"d"},{"i":70,"v":-0.197,"d":"u"},{"i":71,"v":-0.064,"d":"u"},{"i":72,"v":-0.006,"d":"u"},{"i":73,"v":0.048,"d":"u"},{"i":74,"v":0.025,"d":"d"},{"i":75,"v":-0.006,"d":"d"},{"i":76,"v":-0.008,"d":"d"},{"i":77,"v":0.035,"d":"u"},{"i":78,"v":0.041,"d":"u"},{"i":79,"v":0.089,"d":"u"},{"i":80,"v":0.118,"d":"u"},{"i":81,"v":0.080,"d":"d"},{"i":82,"v":0.010,"d":"d"},{"i":83,"v":-0.080,"d":"d"},{"i":84,"v":-0.185,"d":"d"},{"i":85,"v":-0.290,"d":"d"},{"i":86,"v":-0.338,"d":"d"},{"i":87,"v":-0.328,"d":"u"},{"i":88,"v":-0.271,"d":"u"},{"i":89,"v":-0.204,"d":"u"},{"i":90,"v":-0.118,"d":"u"},{"i":91,"v":0.002,"d":"u"},{"i":92,"v":0.099,"d":"u"},{"i":93,"v":0.150,"d":"u"},{"i":94,"v":0.194,"d":"u"},{"i":95,"v":0.185,"d":"d"},{"i":96,"v":0.127,"d":"d"},{"i":97,"v":0.070,"d":"d"},{"i":98,"v":0.068,"d":"d"},{"i":99,"v":0.099,"d":"u"},{"i":100,"v":0.118,"d":"u"},{"i":101,"v":0.127,"d":"u"},{"i":102,"v":0.080,"d":"d"},{"i":103,"v":0.010,"d":"d"},{"i":104,"v":-0.032,"d":"d"},{"i":105,"v":-0.051,"d":"d"},{"i":106,"v":-0.073,"d":"d"},{"i":107,"v":-0.041,"d":"u"},{"i":108,"v":-0.002,"d":"u"},{"i":109,"v":0.010,"d":"u"},{"i":110,"v":0.041,"d":"u"},{"i":111,"v":0.080,"d":"u"},{"i":112,"v":0.111,"d":"u"},{"i":113,"v":0.113,"d":"u"},{"i":114,"v":0.108,"d":"d"},{"i":115,"v":0.099,"d":"d"},{"i":116,"v":0.041,"d":"d"},{"i":117,"v":-0.013,"d":"d"},{"i":118,"v":0.022,"d":"u"},{"i":119,"v":0.127,"d":"u"},{"i":120,"v":0.185,"d":"u"},{"i":121,"v":0.242,"d":"u"},{"i":122,"v":0.204,"d":"d"},{"i":123,"v":0.070,"d":"d"},{"i":124,"v":-0.061,"d":"d"},{"i":125,"v":-0.178,"d":"d"},{"i":126,"v":-0.188,"d":"d"},{"i":127,"v":-0.111,"d":"u"},{"i":128,"v":-0.022,"d":"u"},{"i":129,"v":0.041,"d":"u"},{"i":130,"v":0.108,"d":"u"},{"i":131,"v":0.110,"d":"u"},{"i":132,"v":0.041,"d":"d"},{"i":133,"v":-0.022,"d":"d"},{"i":134,"v":-0.102,"d":"d"},{"i":135,"v":-0.156,"d":"d"},{"i":136,"v":-0.197,"d":"d"},{"i":137,"v":-0.18312,"d":"u"}
    ],
    "gu": [
      {"i":0,"v":0.355,"d":"u"},{"i":1,"v":0.322,"d":"d"},{"i":2,"v":0.309,"d":"d"},{"i":3,"v":0.263,"d":"d"},{"i":4,"v":0.246,"d":"d"},{"i":5,"v":0.234,"d":"d"},{"i":6,"v":0.236,"d":"u"},{"i":7,"v":0.246,"d":"u"},{"i":8,"v":0.284,"d":"u"},{"i":9,"v":0.286,"d":"u"},{"i":10,"v":0.246,"d":"d"},{"i":11,"v":0.184,"d":"d"},{"i":12,"v":0.134,"d":"d"},{"i":13,"v":0.121,"d":"d"},{"i":14,"v":0.109,"d":"d"},{"i":15,"v":0.096,"d":"d"},{"i":16,"v":0.084,"d":"d"},{"i":17,"v":0.046,"d":"d"},{"i":18,"v":0.008,"d":"d"},{"i":19,"v":0.046,"d":"u"},{"i":20,"v":0.134,"d":"u"},{"i":21,"v":0.246,"d":"u"},{"i":22,"v":0.297,"d":"u"},{"i":23,"v":0.263,"d":"d"},{"i":24,"v":0.159,"d":"d"},{"i":25,"v":0.058,"d":"d"},{"i":26,"v":0.021,"d":"d"},{"i":27,"v":0.054,"d":"u"},{"i":28,"v":0.071,"d":"u"},{"i":29,"v":0.146,"d":"u"},{"i":30,"v":0.221,"d":"u"},{"i":31,"v":0.297,"d":"u"},{"i":32,"v":0.334,"d":"u"},{"i":33,"v":0.372,"d":"u"},{"i":34,"v":0.434,"d":"u"},{"i":35,"v":0.459,"d":"u"},{"i":36,"v":0.455,"d":"d"},{"i":37,"v":0.422,"d":"d"},{"i":38,"v":0.397,"d":"d"},{"i":39,"v":0.372,"d":"d"},{"i":40,"v":0.334,"d":"d"},{"i":41,"v":0.322,"d":"d"},{"i":42,"v":0.359,"d":"u"},{"i":43,"v":0.397,"d":"u"},{"i":44,"v":0.447,"d":"u"},{"i":45,"v":0.522,"d":"u"},{"i":46,"v":0.560,"d":"u"},{"i":47,"v":0.558,"d":"d"},{"i":48,"v":0.535,"d":"d"},{"i":49,"v":0.480,"d":"d"},{"i":50,"v":0.422,"d":"d"},{"i":51,"v":0.338,"d":"d"},{"i":52,"v":0.251,"d":"d"},{"i":53,"v":0.180,"d":"d"},{"i":54,"v":0.104,"d":"d"},{"i":55,"v":0.071,"d":"d"},{"i":56,"v":0.075,"d":"u"},{"i":57,"v":0.121,"d":"u"},{"i":58,"v":0.171,"d":"u"},{"i":59,"v":0.180,"d":"u"},{"i":60,"v":0.205,"d":"u"},{"i":61,"v":0.196,"d":"d"},{"i":62,"v":0.188,"d":"d"},{"i":63,"v":0.171,"d":"d"},{"i":64,"v":0.129,"d":"d"},{"i":65,"v":0.092,"d":"d"},{"i":66,"v":0.046,"d":"d"},{"i":67,"v":0.021,"d":"d"},{"i":68,"v":0.018,"d":"d"},{"i":69,"v":0.025,"d":"u"},{"i":70,"v":0.035,"d":"u"},{"i":71,"v":0.104,"d":"u"},{"i":72,"v":0.196,"d":"u"},{"i":73,"v":0.238,"d":"u"},{"i":74,"v":0.217,"d":"d"},{"i":75,"v":0.196,"d":"d"},{"i":76,"v":0.192,"d":"d"},{"i":77,"v":0.190,"d":"d"},{"i":78,"v":0.175,"d":"d"},{"i":79,"v":0.192,"d":"u"},{"i":80,"v":0.180,"d":"d"},{"i":81,"v":0.155,"d":"d"},{"i":82,"v":0.104,"d":"d"},{"i":83,"v":0.079,"d":"d"},{"i":84,"v":0.058,"d":"d"},{"i":85,"v":0.042,"d":"d"},{"i":86,"v":0.040,"d":"d"},{"i":87,"v":0.067,"d":"u"},{"i":88,"v":0.146,"d":"u"},{"i":89,"v":0.242,"d":"u"},{"i":90,"v":0.330,"d":"u"},{"i":91,"v":0.405,"d":"u"},{"i":92,"v":0.443,"d":"u"},{"i":93,"v":0.468,"d":"u"},{"i":94,"v":0.505,"d":"u"},{"i":95,"v":0.530,"d":"u"},{"i":96,"v":0.493,"d":"d"},{"i":97,"v":0.405,"d":"d"},{"i":98,"v":0.368,"d":"d"},{"i":99,"v":0.365,"d":"d"},{"i":100,"v":0.393,"d":"u"},{"i":101,"v":0.380,"d":"d"},{"i":102,"v":0.343,"d":"d"},{"i":103,"v":0.317,"d":"d"},{"i":104,"v":0.267,"d":"d"},{"i":105,"v":0.251,"d":"d"},{"i":106,"v":0.238,"d":"d"},{"i":107,"v":0.267,"d":"u"},{"i":108,"v":0.280,"d":"u"},{"i":109,"v":0.297,"d":"u"},{"i":110,"v":0.305,"d":"u"},{"i":111,"v":0.292,"d":"d"},{"i":112,"v":0.280,"d":"d"},{"i":113,"v":0.282,"d":"u"},{"i":114,"v":0.279,"d":"d"},{"i":115,"v":0.281,"d":"u"},{"i":116,"v":0.255,"d":"d"},{"i":117,"v":0.205,"d":"d"},{"i":118,"v":0.192,"d":"d"},{"i":119,"v":0.217,"d":"u"},{"i":120,"v":0.230,"d":"u"},{"i":121,"v":0.242,"d":"u"},{"i":122,"v":0.240,"d":"d"},{"i":123,"v":0.192,"d":"d"},{"i":124,"v":0.092,"d":"d"},{"i":125,"v":0.021,"d":"d"},{"i":126,"v":0.029,"d":"u"},{"i":127,"v":0.027,"d":"d"},{"i":128,"v":0.067,"d":"u"},{"i":129,"v":0.117,"d":"u"},{"i":130,"v":0.155,"d":"u"},{"i":131,"v":0.150,"d":"d"},{"i":132,"v":0.117,"d":"d"},{"i":133,"v":0.079,"d":"d"},{"i":134,"v":0.058,"d":"d"},{"i":135,"v":0.050,"d":"d"},{"i":136,"v":0.042,"d":"d"},{"i":137,"v":0.079,"d":"u"},{"i":138,"v":0.117,"d":"u"},{"i":139,"v":0.167,"d":"u"},{"i":140,"v":0.217,"d":"u"},{"i":141,"v":0.242,"d":"u"},{"i":142,"v":0.2493,"d":"u"}
    ],
    "gl": [
      {"i":0,"v":-0.175,"d":"d"},{"i":1,"v":-0.125,"d":"d"},{"i":2,"v":-0.113,"d":"u"},{"i":3,"v":-0.115,"d":"u"},{"i":4,"v":-0.117,"d":"u"},{"i":5,"v":-0.138,"d":"u"},{"i":6,"v":-0.175,"d":"u"},{"i":7,"v":-0.163,"d":"d"},{"i":8,"v":-0.100,"d":"d"},{"i":9,"v":-0.025,"d":"d"},{"i":10,"v":-0.004,"d":"d"},{"i":11,"v":-0.006,"d":"u"},{"i":12,"v":-0.005,"d":"d"},{"i":13,"v":-0.007,"d":"u"},{"i":14,"v":-0.013,"d":"u"},{"i":15,"v":-0.063,"d":"u"},{"i":16,"v":-0.100,"d":"u"},{"i":17,"v":-0.003,"d":"d"},{"i":18,"v":-0.125,"d":"u"},{"i":19,"v":-0.242,"d":"u"},{"i":20,"v":-0.255,"d":"u"},{"i":21,"v":-0.163,"d":"d"},{"i":22,"v":-0.025,"d":"d"},{"i":23,"v":-0.063,"d":"u"},{"i":24,"v":-0.088,"d":"u"},{"i":25,"v":-0.113,"d":"u"},{"i":26,"v":-0.115,"d":"u"},{"i":27,"v":-0.213,"d":"u"},{"i":28,"v":-0.326,"d":"u"},{"i":29,"v":-0.355,"d":"u"},{"i":30,"v":-0.376,"d":"u"},{"i":31,"v":-0.401,"d":"u"},{"i":32,"v":-0.464,"d":"u"},{"i":33,"v":-0.462,"d":"d"},{"i":34,"v":-0.388,"d":"d"},{"i":35,"v":-0.376,"d":"d"},{"i":36,"v":-0.326,"d":"d"},{"i":37,"v":-0.251,"d":"d"},{"i":38,"v":-0.200,"d":"d"},{"i":39,"v":-0.202,"d":"u"},{"i":40,"v":-0.251,"d":"u"},{"i":41,"v":-0.276,"d":"u"},{"i":42,"v":-0.338,"d":"u"},{"i":43,"v":-0.451,"d":"u"},{"i":44,"v":-0.453,"d":"u"},{"i":45,"v":-0.388,"d":"d"},{"i":46,"v":-0.363,"d":"d"},{"i":47,"v":-0.301,"d":"d"},{"i":48,"v":-0.200,"d":"d"},{"i":49,"v":-0.117,"d":"d"},{"i":50,"v":-0.013,"d":"d"},{"i":51,"v":-0.038,"d":"u"},{"i":52,"v":-0.117,"d":"u"},{"i":53,"v":-0.200,"d":"u"},{"i":54,"v":-0.267,"d":"u"},{"i":55,"v":-0.284,"d":"u"},{"i":56,"v":-0.305,"d":"u"},{"i":57,"v":-0.313,"d":"u"},{"i":58,"v":-0.284,"d":"d"},{"i":59,"v":-0.242,"d":"d"},{"i":60,"v":-0.213,"d":"d"},{"i":61,"v":-0.171,"d":"d"},{"i":62,"v":-0.117,"d":"d"},{"i":63,"v":-0.054,"d":"d"},{"i":64,"v":-0.013,"d":"d"},{"i":65,"v":-0.015,"d":"u"},{"i":66,"v":-0.017,"d":"u"},{"i":67,"v":-0.025,"d":"u"},{"i":68,"v":-0.054,"d":"u"},{"i":69,"v":-0.163,"d":"u"},{"i":70,"v":-0.276,"d":"u"},{"i":71,"v":-0.263,"d":"d"},{"i":72,"v":-0.242,"d":"d"},{"i":73,"v":-0.200,"d":"d"},{"i":74,"v":-0.159,"d":"d"},{"i":75,"v":-0.138,"d":"d"},{"i":76,"v":-0.146,"d":"u"},{"i":77,"v":-0.138,"d":"d"},{"i":78,"v":-0.129,"d":"d"},{"i":79,"v":-0.067,"d":"d"},{"i":80,"v":-0.013,"d":"d"},{"i":81,"v":-0.015,"d":"u"},{"i":82,"v":-0.021,"d":"u"},{"i":83,"v":-0.042,"d":"u"},{"i":84,"v":-0.021,"d":"d"},{"i":85,"v":-0.033,"d":"u"},{"i":86,"v":-0.129,"d":"u"},{"i":87,"v":-0.242,"d":"u"},{"i":88,"v":-0.347,"d":"u"},{"i":89,"v":-0.405,"d":"u"},{"i":90,"v":-0.407,"d":"u"},{"i":91,"v":-0.430,"d":"u"},{"i":92,"v":-0.464,"d":"u"},{"i":93,"v":-0.462,"d":"d"},{"i":94,"v":-0.368,"d":"d"},{"i":95,"v":-0.221,"d":"d"},{"i":96,"v":-0.213,"d":"d"},{"i":97,"v":-0.242,"d":"u"},{"i":98,"v":-0.244,"d":"u"},{"i":99,"v":-0.221,"d":"d"},{"i":100,"v":-0.167,"d":"d"},{"i":101,"v":-0.129,"d":"d"},{"i":102,"v":-0.088,"d":"d"},{"i":103,"v":-0.067,"d":"d"},{"i":104,"v":-0.069,"d":"u"},{"i":105,"v":-0.079,"d":"u"},{"i":106,"v":-0.155,"d":"u"},{"i":107,"v":-0.167,"d":"u"},{"i":108,"v":-0.155,"d":"d"},{"i":109,"v":-0.167,"d":"u"},{"i":110,"v":-0.142,"d":"d"},{"i":111,"v":-0.140,"d":"d"},{"i":112,"v":-0.167,"d":"u"},{"i":113,"v":-0.159,"d":"d"},{"i":114,"v":-0.104,"d":"d"},{"i":115,"v":-0.042,"d":"d"},{"i":116,"v":-0.054,"d":"u"},{"i":117,"v":-0.117,"d":"u"},{"i":118,"v":-0.119,"d":"u"},{"i":119,"v":-0.115,"d":"d"},{"i":120,"v":-0.129,"d":"u"},{"i":121,"v":-0.025,"d":"d"},{"i":122,"v":-0.079,"d":"u"},{"i":123,"v":-0.129,"d":"u"},{"i":124,"v":-0.117,"d":"d"},{"i":125,"v":-0.042,"d":"d"},{"i":126,"v":-0.013,"d":"d"},{"i":127,"v":-0.054,"d":"u"},{"i":128,"v":-0.104,"d":"u"},{"i":129,"v":-0.088,"d":"d"},{"i":130,"v":-0.021,"d":"d"},{"i":131,"v":-0.006,"d":"d"},{"i":132,"v":-0.008,"d":"u"},{"i":133,"v":-0.010,"d":"u"},{"i":134,"v":-0.025,"d":"u"},{"i":135,"v":-0.027,"d":"u"},{"i":136,"v":-0.088,"d":"u"},{"i":137,"v":-0.159,"d":"u"},{"i":138,"v":-0.192,"d":"u"},{"i":139,"v":-0.213,"d":"u"},{"i":140,"v":-0.2296,"d":"u"}
    ]
  },
  "spacing": 0,
  "vconcat": [
    {
      "width": 1228,
      "height": 470,
      "resolve": {"axis": {"x": "independent", "y": "independent"}},
      "layer": [
        {
          "data": {"name": "bars"},
          "mark": {"type": "rule", "color": "#000000", "strokeWidth": 1},
          "encoding": {
            "x": {"field": "i", "type": "quantitative", "title": null, "scale": {"domain": [-0.2875, 153.2125], "nice": false, "zero": false},
              "axis": {"title": null, "values": [0,4,8,12,16,20,24,28,32,36,40,44,48,52,56,60,64,68,72,76,80,84,88,92,96,100,104,108,112,116,120,124,128,132,136,140,144,148,152], "labels": false, "ticks": false, "grid": true}},
            "y": {"field": "l", "type": "quantitative", "title": null, "scale": {"domain": [146.683, 151.432], "nice": false, "zero": false},
              "axis": {"title": null, "orient": "right", "values": [147.31, 147.635, 147.96, 148.285, 148.61, 148.935, 149.26, 149.585, 149.91, 150.235, 150.56, 150.885, 151.21], "format": ".3f", "grid": true, "tickSize": 4, "labelPadding": 2}},
            "y2": {"field": "h"}
          }
        },
        {
          "data": {"name": "last"},
          "mark": {"type": "rule", "color": "#a00000", "strokeWidth": 1},
          "encoding": {
            "y": {"field": "p", "type": "quantitative", "scale": {"domain": [146.683, 151.432], "nice": false, "zero": false}, "axis": null}
          }
        },
        {
          "data": {"name": "bars"},
          "mark": {"type": "bar", "size": 4, "stroke": "#000000", "strokeWidth": 1},
          "encoding": {
            "x": {"field": "i", "type": "quantitative", "scale": {"domain": [-0.2875, 153.2125], "nice": false, "zero": false}, "axis": null},
            "y": {"field": "o", "type": "quantitative", "scale": {"domain": [146.683, 151.432], "nice": false, "zero": false}, "axis": null},
            "y2": {"field": "c"},
            "fill": {"condition": {"test": "datum.c < datum.o", "value": "#000000"}, "value": "#ffffff"}
          }
        },
        {
          "data": {"name": "ma"},
          "mark": {"type": "line", "strokeWidth": 2},
          "encoding": {
            "x": {"field": "i", "type": "quantitative", "scale": {"domain": [-0.2875, 153.2125], "nice": false, "zero": false}, "axis": null},
            "y": {"field": "v", "type": "quantitative", "scale": {"domain": [146.683, 151.432], "nice": false, "zero": false}, "axis": null},
            "color": {"field": "s", "type": "nominal", "scale": {"domain": ["jaw", "teeth", "lips"], "range": ["#1450d2", "#ff0000", "#00e600"]}, "legend": null}
          }
        },
        {
          "data": {"name": "fractals"},
          "mark": {"type": "point", "filled": true, "clip": true, "size": 130, "fill": "#c4c4c4", "stroke": "#7a7a7a", "strokeWidth": 0.8, "opacity": 1},
          "encoding": {
            "x": {"field": "i", "type": "quantitative", "scale": {"domain": [-0.2875, 153.2125], "nice": false, "zero": false}, "axis": null},
            "y": {"field": "p", "type": "quantitative", "scale": {"domain": [146.683, 151.432], "nice": false, "zero": false}, "axis": null},
            "shape": {"field": "t", "type": "nominal", "scale": {"domain": ["up", "dn"], "range": ["M0,-1L0.8,0.8L0,0.3L-0.8,0.8Z", "M0,1L0.8,-0.8L0,-0.3L-0.8,-0.8Z"]}, "legend": null}
          }
        },
        {
          "data": {"name": "signal"},
          "mark": {"type": "point", "filled": true, "size": 340, "fill": "#fff4ee", "stroke": "#ff2a2a", "strokeWidth": 1.5, "opacity": 1, "shape": "M-0.35,-1L0.35,-1L0.35,0.05L0.85,0.05L0,1L-0.85,0.05L-0.35,0.05Z"},
          "encoding": {
            "x": {"field": "i", "type": "quantitative", "scale": {"domain": [-0.2875, 153.2125], "nice": false, "zero": false}, "axis": null},
            "y": {"field": "p", "type": "quantitative", "scale": {"domain": [146.683, 151.432], "nice": false, "zero": false}, "axis": null}
          }
        },
        {
          "data": {"name": "last"},
          "mark": {"type": "rect", "color": "#c80000"},
          "encoding": {
            "x": {"datum": 153.46, "type": "quantitative", "scale": {"domain": [-0.2875, 153.2125], "nice": false, "zero": false}, "axis": null},
            "x2": {"datum": 158.3},
            "y": {"datum": 146.935, "type": "quantitative", "scale": {"domain": [146.683, 151.432], "nice": false, "zero": false}, "axis": null},
            "y2": {"datum": 147.031}
          }
        },
        {
          "data": {"name": "last"},
          "mark": {"type": "text", "color": "#ffffff", "fontSize": 9, "align": "center", "baseline": "middle"},
          "encoding": {
            "x": {"datum": 155.88, "type": "quantitative", "scale": {"domain": [-0.2875, 153.2125], "nice": false, "zero": false}, "axis": null},
            "y": {"field": "p", "type": "quantitative", "scale": {"domain": [146.683, 151.432], "nice": false, "zero": false}, "axis": null},
            "text": {"field": "label"}
          }
        }
      ]
    },
    {
      "spacing": 2,
      "vconcat": [
        {
          "width": 1228,
          "height": 99,
          "resolve": {"axis": {"x": "independent", "y": "independent"}},
          "layer": [
            {
              "data": {"name": "ao"},
              "mark": {"type": "bar", "size": 4},
              "encoding": {
                "x": {"field": "i", "type": "quantitative", "title": null, "scale": {"domain": [-0.2875, 153.2125], "nice": false, "zero": false},
                  "axis": {"title": null, "values": [0,4,8,12,16,20,24,28,32,36,40,44,48,52,56,60,64,68,72,76,80,84,88,92,96,100,104,108,112,116,120,124,128,132,136,140,144,148,152], "labels": false, "ticks": false, "grid": true}},
                "y": {"field": "v", "type": "quantitative", "title": null, "scale": {"domain": [-1.4338, 0.8508], "nice": false, "zero": false},
                  "axis": {"title": null, "orient": "right", "values": [0.8508, 0, -1.4338], "labelExpr": "datum.value < 0 ? '-1.4338' : format(datum.value, '.4f')", "labelFlush": true, "grid": false, "tickSize": 4, "labelPadding": 2}},
                "y2": {"datum": 0},
                "color": {"condition": {"test": "datum.d === 'u'", "value": "#008000"}, "value": "#ff0000"}
              }
            },
            {
              "mark": {"type": "rule", "color": "#cfcfcf", "strokeDash": [3, 3]},
              "encoding": {"y": {"datum": 0, "type": "quantitative", "scale": {"domain": [-1.4338, 0.8508], "nice": false, "zero": false}, "axis": null}}
            },
            {
              "mark": {"type": "text", "align": "left", "baseline": "top", "dy": 3, "fontSize": 9, "color": "#000000"},
              "encoding": {
                "x": {"datum": 0.5, "type": "quantitative", "scale": {"domain": [-0.2875, 153.2125], "nice": false, "zero": false}, "axis": null},
                "y": {"datum": 0.8508, "type": "quantitative", "scale": {"domain": [-1.4338, 0.8508], "nice": false, "zero": false}, "axis": null},
                "text": {"value": "AOcust -0.4504"}
              }
            }
          ]
        },
        {
          "width": 1228,
          "height": 99,
          "resolve": {"axis": {"x": "independent", "y": "independent"}},
          "layer": [
            {
              "data": {"name": "ac"},
              "mark": {"type": "bar", "size": 4},
              "encoding": {
                "x": {"field": "i", "type": "quantitative", "title": null, "scale": {"domain": [-0.2875, 153.2125], "nice": false, "zero": false},
                  "axis": {"title": null, "values": [0,4,8,12,16,20,24,28,32,36,40,44,48,52,56,60,64,68,72,76,80,84,88,92,96,100,104,108,112,116,120,124,128,132,136,140,144,148,152], "labels": false, "ticks": false, "grid": true}},
                "y": {"field": "v", "type": "quantitative", "title": null, "scale": {"domain": [-0.42564, 0.51965], "nice": false, "zero": false},
                  "axis": {"title": null, "orient": "right", "values": [0.51965, 0, -0.42564], "labelExpr": "datum.value < 0 ? '-0.42564' : format(datum.value, '.5f')", "labelFlush": true, "grid": false, "tickSize": 4, "labelPadding": 2}},
                "y2": {"datum": 0},
                "color": {"condition": {"test": "datum.d === 'u'", "value": "#008000"}, "value": "#ff0000"}
              }
            },
            {
              "mark": {"type": "rule", "color": "#cfcfcf", "strokeDash": [3, 3]},
              "encoding": {"y": {"datum": 0, "type": "quantitative", "scale": {"domain": [-0.42564, 0.51965], "nice": false, "zero": false}, "axis": null}}
            },
            {
              "mark": {"type": "text", "align": "left", "baseline": "top", "dy": 3, "fontSize": 9, "color": "#000000"},
              "encoding": {
                "x": {"datum": 0.5, "type": "quantitative", "scale": {"domain": [-0.2875, 153.2125], "nice": false, "zero": false}, "axis": null},
                "y": {"datum": 0.51965, "type": "quantitative", "scale": {"domain": [-0.42564, 0.51965], "nice": false, "zero": false}, "axis": null},
                "text": {"value": "ACcust -0.18312"}
              }
            }
          ]
        },
        {
          "width": 1228,
          "height": 99,
          "resolve": {"axis": {"x": "independent", "y": "independent"}},
          "layer": [
            {
              "data": {"name": "gu"},
              "mark": {"type": "bar", "size": 4},
              "encoding": {
                "x": {"field": "i", "type": "quantitative", "title": null, "scale": {"domain": [-0.2875, 153.2125], "nice": false, "zero": false},
                  "axis": {"title": null, "values": [0,4,8,12,16,20,24,28,32,36,40,44,48,52,56,60,64,68,72,76,80,84,88,92,96,100,104,108,112,116,120,124,128,132,136,140,144,148,152],
                    "labelExpr": "(datum.value % 8 === 0 && datum.value <= 136) ? ['28 Feb 2025','3 Mar 06:00','3 Mar 14:00','3 Mar 22:00','4 Mar 06:00','4 Mar 14:00','4 Mar 22:00','5 Mar 06:00','5 Mar 14:00','5 Mar 22:00','6 Mar 06:00','6 Mar 14:00','6 Mar 22:00','7 Mar 06:00','7 Mar 14:00','7 Mar 22:00','10 Mar 06:00','10 Mar 14:00'][datum.value / 8] : ''",
                    "labelAlign": "left", "labelBaseline": "top", "labelPadding": 0, "labelOverlap": false, "labelBound": false, "labelFlush": false,
                    "tickSize": 4, "tickOpacity": {"condition": {"test": "datum.value % 8 === 0 && datum.value <= 136", "value": 1}, "value": 0},
                    "grid": true}},
                "y": {"field": "v", "type": "quantitative", "title": null, "scale": {"domain": [-0.5861, 0.655], "nice": false, "zero": false},
                  "axis": {"title": null, "orient": "right", "values": [0.655, 0, -0.5861], "labelExpr": "datum.value < 0 ? '-0.5861' : format(datum.value, '.4f')", "labelFlush": true, "grid": false, "tickSize": 4, "labelPadding": 2}},
                "y2": {"datum": 0},
                "color": {"condition": {"test": "datum.d === 'u'", "value": "#008000"}, "value": "#ff0000"}
              }
            },
            {
              "data": {"name": "gl"},
              "mark": {"type": "bar", "size": 4},
              "encoding": {
                "x": {"field": "i", "type": "quantitative", "scale": {"domain": [-0.2875, 153.2125], "nice": false, "zero": false}, "axis": null},
                "y": {"field": "v", "type": "quantitative", "scale": {"domain": [-0.5861, 0.655], "nice": false, "zero": false}, "axis": null},
                "y2": {"datum": 0},
                "color": {"condition": {"test": "datum.d === 'u'", "value": "#008000"}, "value": "#ff0000"}
              }
            },
            {
              "mark": {"type": "rule", "color": "#e8e8e8", "strokeDash": [3, 3]},
              "encoding": {"y": {"datum": 0, "type": "quantitative", "scale": {"domain": [-0.5861, 0.655], "nice": false, "zero": false}, "axis": null}}
            },
            {
              "mark": {"type": "text", "align": "left", "baseline": "top", "dy": 3, "fontSize": 9, "color": "#000000"},
              "encoding": {
                "x": {"datum": 0.5, "type": "quantitative", "scale": {"domain": [-0.2875, 153.2125], "nice": false, "zero": false}, "axis": null},
                "y": {"datum": 0.655, "type": "quantitative", "scale": {"domain": [-0.5861, 0.655], "nice": false, "zero": false}, "axis": null},
                "text": {"value": "GatorCust 0.2493 -0.2296"}
              }
            }
          ]
        }
      ]
    }
  ]
}
